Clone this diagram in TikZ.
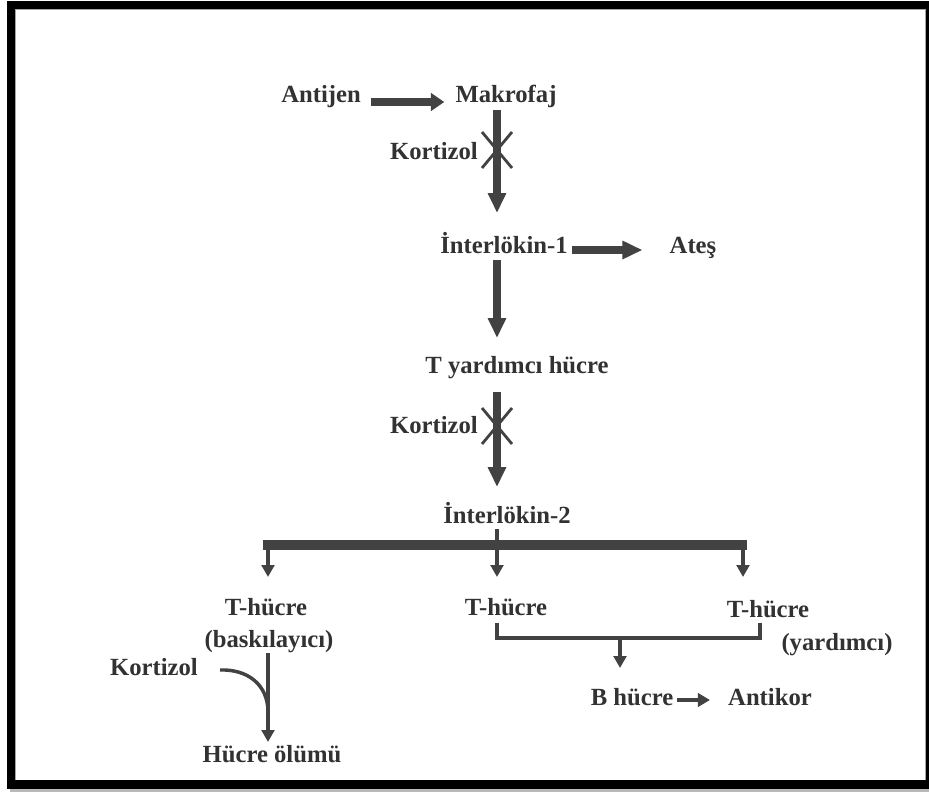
\documentclass[tikz,border=0pt]{standalone}
\usepackage{fontspec}
\setmainfont{Liberation Serif}
\usetikzlibrary{arrows.meta,calc}
\definecolor{txtgray}{RGB}{50,50,50}
\definecolor{arrgray}{RGB}{66,66,66}
\begin{document}
\begin{tikzpicture}[x=0.75pt,y=-0.75pt,
  lbl/.style={font=\fontsize{18.5}{22}\selectfont\bfseries, text=txtgray, inner sep=0pt, anchor=base},
  bigarrow/.style={draw=arrgray, line width=5.6pt, -{Triangle[length=15pt,width=13pt]}},
  harrow/.style={draw=arrgray, line width=5.4pt, -{Triangle[length=10pt,width=13pt]}},
  medarrow/.style={draw=arrgray, line width=3.4pt, -{Triangle[length=9pt,width=10pt]}},
  thinarrow/.style={draw=arrgray, line width=2.6pt, -{Triangle[length=9pt,width=9.5pt]}},
  thinline/.style={draw=arrgray, line width=2.6pt},
  xmark/.style={draw=arrgray, line width=2.1pt},
  barline/.style={draw=arrgray, line width=7.6pt},
]
\useasboundingbox (0,0) rectangle (929,792);
% frame
\fill[black] (7,1) rectangle (929,789);
\fill[white] (15,9) rectangle (926,780);
\draw[gray!70, line width=0.8pt] (15.5,780) -- (15.5,9.5) -- (925.5,9.5) -- (925.5,780);
\fill[gray!55] (10,789) rectangle (929,792);

% labels
\node[lbl] (antijen) at (321,103) {Antijen};
\node[lbl] (makrofaj) at (506,103) {Makrofaj};
\node[lbl, anchor=base east] (kort1) at (478,160) {Kortizol};
\node[lbl] (il1) at (504,253) {İnterlökin-1};
\node[lbl] (ates) at (693,253) {Ateş};
\node[lbl] (tyard) at (517,373) {T yardımcı hücre};
\node[lbl, anchor=base east] (kort2) at (478,433) {Kortizol};
\node[lbl] (il2) at (507,523) {İnterlökin-2};
\node[lbl] (th1) at (266,615) {T-hücre};
\node[lbl] (bask) at (269,647) {(baskılayıcı)};
\node[lbl] (th2) at (506,615) {T-hücre};
\node[lbl] (th3) at (768,617) {T-hücre};
\node[lbl] (yard) at (837,650) {(yardımcı)};
\node[lbl, anchor=base east] (kort3) at (198,675) {Kortizol};
\node[lbl] (olum) at (272,762) {Hücre ölümü};
\node[lbl] (bh) at (632,705) {B hücre};
\node[lbl] (antikor) at (770,705) {Antikor};

% helper coordinates
\coordinate (spine) at (497,0);
\coordinate (barL) at (268,545);
\coordinate (barR) at (743,545);
\coordinate (c1) at (497,150);
\coordinate (c2) at (497,426);
\coordinate (brL) at (497,638);
\coordinate (brR) at (760,638);
\coordinate (brM) at (620,638);

% main chain
\draw[harrow] ($(antijen.base east)+(10,-1)$) -- ($(makrofaj.base west)+(-11,-1)$);
\draw[bigarrow] ($(spine |- makrofaj.base)+(0,7)$) -- ($(spine |- il1.base)+(0,-40)$);
\draw[bigarrow] ($(il1.base east)+(4,-3)$) -- ($(ates.base west)+(-27,-3)$);
\draw[bigarrow] ($(spine |- il1.base)+(0,7)$) -- ($(spine |- tyard.base)+(0,-35)$);
\draw[bigarrow] ($(spine |- tyard.base)+(0,19)$) -- ($(spine |- il2.base)+(0,-36)$);

% Kortizol blocks
\draw[xmark] ($(c1)+(-15,-18)$) -- ($(c1)+(15,18)$) ($(c1)+(15,-18)$) -- ($(c1)+(-15,18)$);
\draw[xmark] ($(c2)+(-15,-18)$) -- ($(c2)+(15,18)$) ($(c2)+(15,-18)$) -- ($(c2)+(-15,18)$);

% branching bar
\draw[thinline] ($(spine |- il2.base)+(0,6)$) -- (spine |- barL);
\draw[barline] ($(barL)+(-5,0)$) -- ($(barR)+(4,0)$);
\draw[thinarrow] (barL) -- ($(barL |- th1.base)+(0,-38)$);
\draw[thinarrow] (spine |- barL) -- ($(spine |- th2.base)+(0,-38)$);
\draw[thinarrow] (barR) -- ($(barR |- th3.base)+(0,-40)$);

% bracket to B cell
\draw[thinline] ($(spine |- th2.base)+(0,8)$) -- (brL) -- (brR) -- ($(brR |- th3.base)+(0,6)$);
\draw[thinarrow] (brM) -- ($(brM |- bh.base)+(0,-37)$);
\draw[medarrow] ($(bh.base east)+(4,-5)$) -- ($(antikor.base west)+(-18,-5)$);

% suppressor branch
\draw[thinarrow] ($(barL |- bask.base)+(0,6)$) -- ($(barL |- olum.base)+(0,-20)$);
\draw[thinline] ($(kort3.base east)+(22,-5)$) .. controls (248,669) and (268,685) .. (268,712);
\end{tikzpicture}
\end{document}
